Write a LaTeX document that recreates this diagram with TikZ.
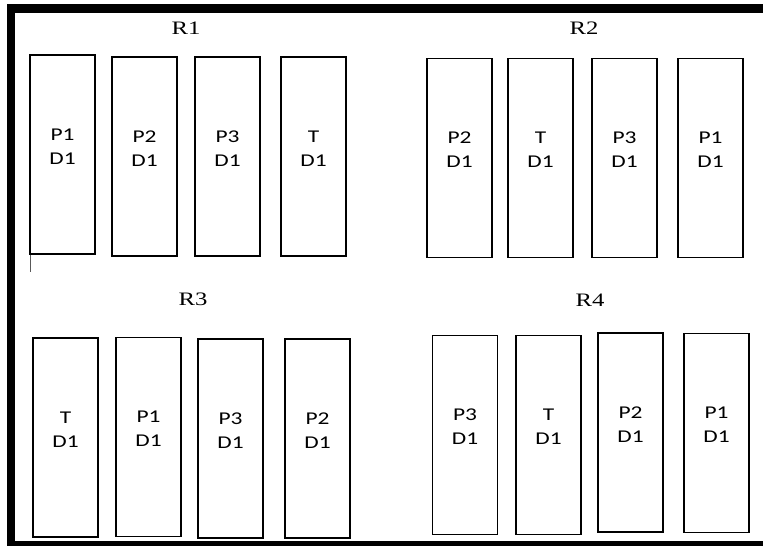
\documentclass[tikz,border=0pt]{standalone}
\usepackage{fontspec}
\newfontfamily\rackfont[FakeStretch=1.3]{Carlito}
\newfontfamily\roomfont[FakeStretch=1.3]{Liberation Serif}
\usetikzlibrary{positioning}
\tikzset{
  wall/.style={line width=8.5pt},
  rack/.style={draw, line width=1.8pt, minimum width=65pt, minimum height=199pt, inner sep=0pt},
  tag/.style={font=\rackfont\fontsize{18}{24}\selectfont, align=center, yshift=8pt},
  room/.style={font=\roomfont\fontsize{19}{20}\selectfont},
}
\begin{document}
\begin{tikzpicture}[x=1pt, y=-1pt]
  \useasboundingbox (0,0) rectangle (763,546);

  % Walls
  \draw[wall] (763,8.3) -- (11,8.3) -- (11,546);
  \draw[wall] (7,545.5) -- (763,545.5);

  % Room labels
  \node[room] (R1) at (186,28) {R1};
  \node[room] (R2) at (584,28) {R2};
  \node[room] (R3) at (193,299) {R3};
  \node[room] (R4) at (590,300) {R4};

  % Row R1
  \node[rack] (r1a) at (62.5,154.5) {};
  \node[tag] at (r1a.center) {P1\\D1};
  \node[rack] (r1b) at (144.5,156.5) {};
  \node[tag] at (r1b.center) {P2\\D1};
  \node[rack] (r1c) at (227.5,156.5) {};
  \node[tag] at (r1c.center) {P3\\D1};
  \node[rack] (r1d) at (313.5,156.5) {};
  \node[tag] at (r1d.center) {T\\D1};
  \draw[semithick, gray!70!black] ([xshift=1pt]r1a.south west) -- ++(0,17);

  % Row R2
  \node[rack] (r2a) at (459.5,158) {};
  \node[tag] at (r2a.center) {P2\\D1};
  \node[rack] (r2b) at (540.5,158) {};
  \node[tag] at (r2b.center) {T\\D1};
  \node[rack] (r2c) at (624.5,158) {};
  \node[tag] at (r2c.center) {P3\\D1};
  \node[rack] (r2d) at (710.5,158) {};
  \node[tag] at (r2d.center) {P1\\D1};

  % Row R3
  \node[rack] (r3a) at (65.5,437.5) {};
  \node[tag] at (r3a.center) {T\\D1};
  \node[rack] (r3b) at (148.5,437) {};
  \node[tag] at (r3b.center) {P1\\D1};
  \node[rack] (r3c) at (230.5,438.5) {};
  \node[tag] at (r3c.center) {P3\\D1};
  \node[rack] (r3d) at (317.5,438.5) {};
  \node[tag] at (r3d.center) {P2\\D1};

  % Row R4
  \node[rack] (r4a) at (465,435) {};
  \node[tag] at (r4a.center) {P3\\D1};
  \node[rack] (r4b) at (548.5,435) {};
  \node[tag] at (r4b.center) {T\\D1};
  \node[rack] (r4c) at (630.5,432.5) {};
  \node[tag] at (r4c.center) {P2\\D1};
  \node[rack] (r4d) at (716.5,433) {};
  \node[tag] at (r4d.center) {P1\\D1};
\end{tikzpicture}
\end{document}
